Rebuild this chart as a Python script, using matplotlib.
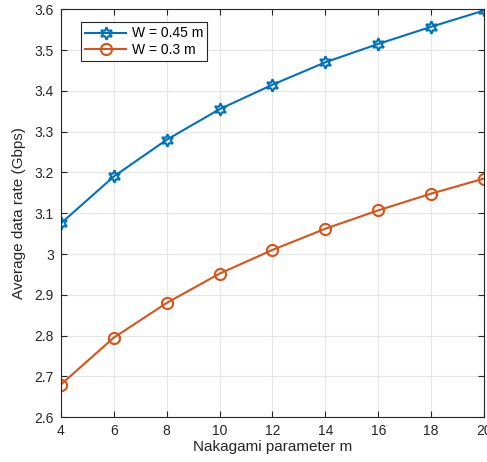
import matplotlib
matplotlib.use('Agg')
import matplotlib.pyplot as plt

m_vals = [4, 6, 8, 10, 12, 14, 16, 18, 20]
rate_w045 = [3.075, 3.19, 3.28, 3.355, 3.415, 3.47, 3.515, 3.557, 3.597]
rate_w03 = [2.68, 2.795, 2.88, 2.952, 3.01, 3.062, 3.107, 3.148, 3.185]
yticks = [2.6, 2.7, 2.8, 2.9, 3, 3.1, 3.2, 3.3, 3.4, 3.5, 3.6]

plt.rcParams['font.family'] = ['Liberation Sans', 'DejaVu Sans']

fig = plt.figure(figsize=(4.87, 4.62), dpi=100)
ax = fig.add_axes([0.125, 0.097, 0.869, 0.883])

ax.plot(m_vals, rate_w045, color='#0072BD', lw=1.5, marker=(6, 1, 0), ms=9,
        mfc='none', mec='#0072BD', mew=1.5, label='W = 0.45 m')
ax.plot(m_vals, rate_w03, color='#D95319', lw=1.5, marker='o', ms=8,
        mfc='none', mec='#D95319', mew=1.5, label='W = 0.3 m')

ax.set_xlim(4, 20)
ax.set_ylim(2.6, 3.6)
ax.set_xticks(m_vals)
ax.set_yticks(yticks)
ax.set_yticklabels([f'{v:g}' for v in yticks])
ax.grid(True, color='#e6e6e6', lw=0.8)
ax.set_axisbelow(True)
ax.tick_params(direction='in', length=4, labelsize=10, colors='#262626',
               top=True, right=True, pad=5)
for s in ax.spines.values():
    s.set_color('#262626')
    s.set_linewidth(0.8)

ax.set_xlabel('Nakagami parameter m', fontsize=11, color='#262626', labelpad=1)
ax.set_ylabel('Average data rate (Gbps)', fontsize=11, color='#262626', labelpad=6)

leg = ax.legend(loc='upper left', bbox_to_anchor=(0.03, 0.985), fontsize=10,
                fancybox=False, edgecolor='#262626', framealpha=1,
                handlelength=3.0, borderpad=0.3, labelspacing=0.2,
                handletextpad=0.4)
leg.get_frame().set_linewidth(0.8)

fig.savefig('out.png', dpi=100)
